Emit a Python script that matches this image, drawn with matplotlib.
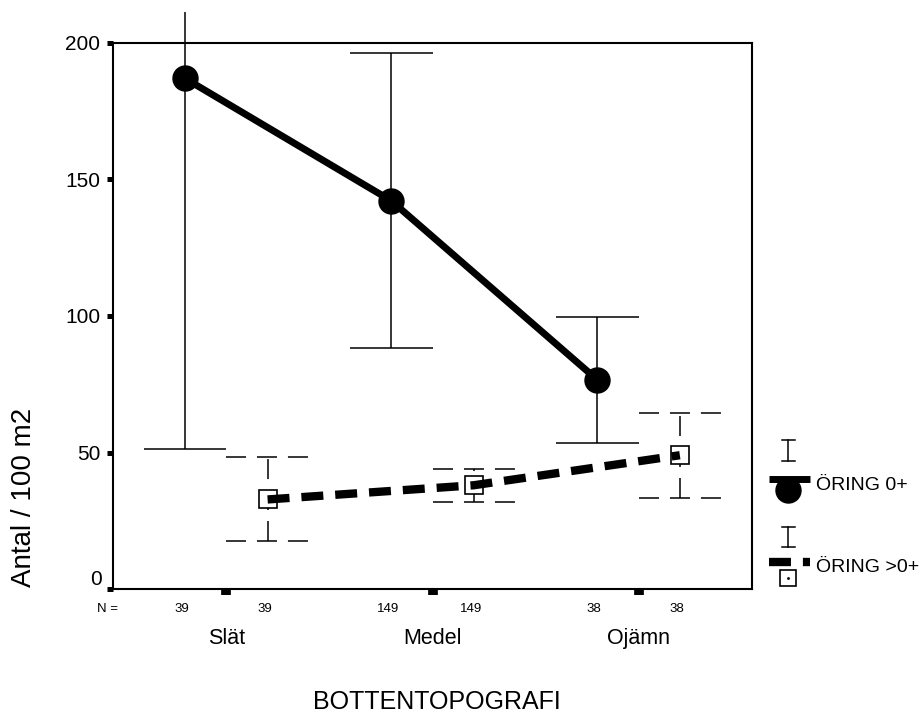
import numpy as np
import matplotlib.pyplot as plt
from matplotlib.patches import Rectangle

plt.rcParams['font.family'] = ['Liberation Sans', 'DejaVu Sans']
plt.rcParams['lines.scale_dashes'] = False

categories = ['Slät', 'Medel', 'Ojämn']
groups = ['ÖRING 0+', 'ÖRING >0+']
n_counts = [39, 149, 38]

# mean number per 100 m2 and half width of the 95% confidence interval
mean_0 = [187.0, 142.2, 76.6]
ci_0 = [135.6, 54.0, 23.2]
mean_1 = [32.8, 38.0, 49.0]
ci_1 = [15.4, 6.1, 15.5]

W, H = 924, 715
fig = plt.figure(figsize=(W / 100, H / 100), dpi=100)
ax = fig.add_axes([113 / W, 1 - 589 / H, (752 - 113) / W, (589 - 43) / H])

xc = np.arange(1, len(categories) + 1)
off = 0.2
x0 = xc - off
x1 = xc + off
m0, c0 = np.array(mean_0), np.array(ci_0)
m1, c1 = np.array(mean_1), np.array(ci_1)

# whiskers may run above the frame, but stop a little below the top edge
clip = Rectangle((0, 0), 1, 1 - 12 / H, transform=fig.transFigure)

err_dash = (0, (14.4, 7.9))
bars = [
    ax.vlines(x0, m0 - c0, m0 + c0, color='k', lw=1.1, zorder=2),
    ax.hlines(np.r_[m0 - c0, m0 + c0], np.r_[x0, x0] - off, np.r_[x0, x0] + off,
              color='k', lw=1.1, zorder=2),
    ax.vlines(x1, m1 - c1, m1 + c1, color='k', lw=1.1, linestyles=[err_dash], zorder=2),
    ax.hlines(np.r_[m1 - c1, m1 + c1], np.r_[x1, x1] - off, np.r_[x1, x1] + off,
              color='k', lw=1.1, linestyles=[err_dash], zorder=2),
]
for b in bars:
    b.set_clip_box(fig.bbox)
    b.set_clip_path(clip)

ax.plot(x0, m0, color='k', lw=5, marker='o', ms=18, solid_joinstyle='round', zorder=4)
ax.plot(x1, m1, ls='none', marker='s', ms=13, mfc='white', mec='k', mew=1.2, zorder=4)
ax.plot(x1, m1, color='k', lw=6, dashes=(15.8, 8.6), dash_capstyle='butt', zorder=5)

ax.set_xlim(0.45, 3.55)
ax.set_ylim(0, 200)
for s in ax.spines.values():
    s.set_linewidth(1.5)

ax.set_yticks([0, 50, 100, 150, 200])
ax.set_yticklabels(['', '50', '100', '150', '200'])
ax.tick_params(axis='y', direction='out', length=4.3, width=3.6, pad=5, labelsize=15)
ax.text(-0.018, 0.018, '0', transform=ax.transAxes, ha='right', va='center', fontsize=15)

ax.set_xticks(xc)
ax.set_xticklabels(categories)
ax.tick_params(axis='x', direction='out', length=4.3, width=7, pad=24, labelsize=15.5)

# group sizes under each series
ny = -20 / 546
ax.text(-0.008, ny, 'N =', transform=ax.transAxes, ha='center', va='center', fontsize=9.5)
for xa, xb, n in zip(x0, x1, n_counts):
    for xx in (xa, xb):
        ax.text(xx - 0.015, ny, str(n), transform=ax.get_xaxis_transform(),
                ha='center', va='center', fontsize=9.5)

fig.text(437 / W, 1 - 714 / H, 'BOTTENTOPOGRAFI', ha='center', va='bottom', fontsize=18)
fig.text(24 / W, 1 - 497 / H, 'Antal / 100 m2', rotation=90, ha='center', va='center',
         fontsize=20)

# legend drawn in pixel units on its own axes
lg = fig.add_axes([760 / W, 1 - 600 / H, 164 / W, 180 / H])
lg.set_xlim(760, 924)
lg.set_ylim(600, 420)
lg.axis('off')
for top, bot in [(440, 461), (527, 547)]:
    lg.plot([788, 788], [top, bot], color='k', lw=1.1)
    lg.plot([782, 795], [top, top], color='k', lw=1.1)
    lg.plot([782, 795], [bot, bot], color='k', lw=1.1)
lg.plot([788], [490], marker='o', ms=18, color='k')
lg.plot([769, 810], [479, 479], color='k', lw=5, solid_capstyle='butt')
lg.plot([788], [578], marker='s', ms=11, mfc='white', mec='k', mew=1.2)
lg.plot([788], [578], marker='.', ms=2, color='k')
lg.plot([769, 810], [562, 562], color='k', lw=6, dashes=(15.8, 8.6), dash_capstyle='butt')
lg.text(816, 486, groups[0], ha='left', va='center', fontsize=14)
lg.text(816, 567, groups[1], ha='left', va='center', fontsize=14)

fig.savefig('out.png', dpi=100)
